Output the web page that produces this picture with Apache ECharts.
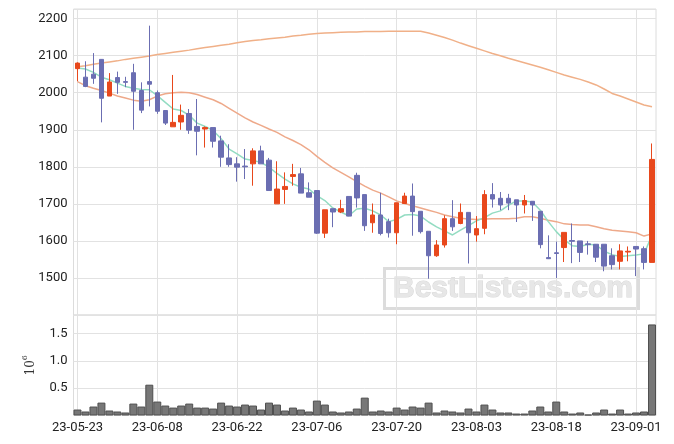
<!DOCTYPE html>
<html>
<head>
<meta charset="utf-8">
<script src="https://cdn.jsdelivr.net/npm/echarts@6/dist/echarts.min.js"></script>
<style>
html,body{margin:0;padding:0;background:#fff;}
#chart{width:674px;height:444px;}
</style>
</head>
<body>
<div id="chart"></div>
<script>
const dates = ['23-05-23','23-05-24','23-05-25','23-05-26','23-05-30','23-05-31','23-06-01','23-06-02','23-06-05','23-06-07',
'23-06-08','23-06-09','23-06-12','23-06-13','23-06-14','23-06-15','23-06-16','23-06-19','23-06-20','23-06-21',
'23-06-22','23-06-23','23-06-26','23-06-27','23-06-28','23-06-29','23-06-30','23-07-03','23-07-04','23-07-05',
'23-07-06','23-07-07','23-07-10','23-07-11','23-07-12','23-07-13','23-07-14','23-07-17','23-07-18','23-07-19',
'23-07-20','23-07-21','23-07-24','23-07-25','23-07-26','23-07-27','23-07-28','23-07-31','23-08-01','23-08-02',
'23-08-03','23-08-04','23-08-07','23-08-08','23-08-09','23-08-10','23-08-11','23-08-14','23-08-16','23-08-17',
'23-08-18','23-08-21','23-08-22','23-08-23','23-08-24','23-08-25','23-08-28','23-08-29','23-08-30','23-08-31',
'23-09-01','23-09-04','23-09-05'];

const openP = [2065,2042,2050,2090,1991,2041,2030,2054,2006,2030,
2000,1952,1908,1921,1944,1909,1902,1906,1870,1824,
1808,1802,1808,1843,1818,1700,1739,1774,1781,1730,
1736,1621,1687,1678,1720,1777,1725,1649,1670,1652,
1622,1701,1721,1680,1626,1560,1589,1660,1647,1677,
1616,1634,1725,1715,1715,1711,1697,1707,1680,1555,
1568,1582,1601,1600,1592,1591,1591,1560,1545,1570,
1585,1579,1542];
const closeP = [2080,2017,2039,1985,2029,2028,2028,2004,1953,2023,
1950,1918,1920,1939,1899,1896,1906,1869,1826,1806,
1799,1800,1843,1808,1736,1740,1747,1779,1729,1718,
1621,1684,1678,1687,1667,1716,1641,1670,1620,1622,
1703,1721,1679,1625,1560,1589,1660,1638,1677,1622,
1633,1725,1713,1697,1702,1697,1709,1697,1590,1552,
1566,1623,1599,1569,1590,1556,1532,1536,1573,1572,
1578,1542,1820];
const lowP = [2031,2015,2024,1920,1991,1997,2015,1900,1945,1963,
1943,1913,1908,1900,1889,1831,1852,1852,1800,1800,
1760,1767,1749,1808,1736,1700,1700,1749,1729,1718,
1619,1608,1637,1675,1667,1690,1627,1622,1615,1609,
1591,1701,1614,1620,1498,1557,1582,1627,1645,1539,
1598,1618,1690,1683,1683,1651,1674,1654,1580,1551,
1500,1543,1540,1543,1563,1543,1518,1523,1523,1545,
1505,1523,1542];
const highP = [2082,2085,2107,2091,2053,2057,2043,2078,2028,2181,
2006,1952,2048,1968,1956,1983,1909,1906,1884,1861,
1826,1848,1850,1857,1824,1815,1785,1808,1797,1758,
1736,1684,1687,1711,1720,1784,1725,1701,1730,1660,
1703,1730,1755,1680,1626,1602,1669,1710,1701,1677,
1667,1737,1756,1732,1727,1711,1724,1707,1680,1615,
1598,1623,1647,1600,1600,1591,1591,1580,1591,1585,
1585,1585,1863];

const ma5 = [2067,2064,2055,2042,2035,2026,2017,2012,2009,2008,
1992,1974,1956,1952,1939,1918,1909,1898,1876,1848,
1835,1821,1817,1812,1799,1782,1767,1754,1745,1740,
1722,1709,1689,1678,1668,1686,1688,1681,1670,1652,
1658,1670,1671,1667,1651,1638,1627,1616,1629,1641,
1654,1663,1675,1681,1696,1708,1708,1705,1683,1652,
1625,1603,1587,1585,1591,1589,1572,1563,1558,1560,
1562,1565,1616];
const ma20 = [2030,2019,2012,2006,1999,1991,1986,1980,1977,1981,
1991,1997,2000,2001,2000,1995,1988,1981,1971,1958,
1945,1932,1921,1912,1902,1893,1881,1871,1860,1846,
1828,1812,1797,1785,1773,1760,1748,1737,1729,1719,
1708,1701,1695,1689,1683,1677,1670,1665,1661,1659,
1658,1659,1660,1660,1660,1661,1665,1665,1661,1656,
1652,1646,1644,1643,1643,1638,1633,1629,1627,1625,
1622,1613,1619];
const maLong = [2070,2073,2077,2080,2083,2086,2090,2093,2096,2099,
2103,2106,2109,2112,2115,2119,2122,2125,2128,2131,
2135,2138,2141,2143,2146,2148,2150,2153,2155,2158,
2160,2161,2162,2163,2164,2164,2165,2165,2165,2166,
2166,2166,2166,2166,2161,2155,2149,2142,2134,2127,
2120,2113,2106,2100,2093,2087,2081,2075,2069,2062,
2055,2048,2042,2036,2029,2021,2010,1998,1991,1983,
1975,1967,1962];

const volume = [0.109,0.073,0.164,0.236,0.091,0.073,0.055,0.218,0.164,0.564,
0.255,0.182,0.145,0.182,0.218,0.145,0.145,0.127,0.236,0.182,
0.164,0.200,0.182,0.109,0.236,0.200,0.091,0.145,0.109,0.073,
0.273,0.200,0.073,0.055,0.073,0.127,0.327,0.073,0.091,0.073,
0.145,0.109,0.164,0.145,0.236,0.055,0.091,0.073,0.055,0.127,
0.073,0.200,0.109,0.055,0.055,0.036,0.036,0.091,0.164,0.073,
0.255,0.073,0.036,0.055,0.018,0.055,0.109,0.036,0.109,0.036,
0.055,0.073,1.667];

const priceTicks = {min:1400, max:2226, step:100};
const volTicks = {min:0, max:1.84, step:0.5};

const candleData = dates.map((d,i)=>[openP[i],closeP[i],lowP[i],highP[i]]);

const UP = '#e8481c', DOWN = '#6b6eb2';
const GRIDC = '#e2e2e2';
const FONT = 'Roboto';

const chart = echarts.init(document.getElementById('chart'), null, {renderer:'canvas'});
chart.setOption({
  animation:false,
  backgroundColor:'#fff',
  grid:[
    {left:73.5, top:9, width:582.5, height:306, show:true, borderColor:'#dcdcdc', borderWidth:1},
    {left:73.5, top:315, width:582.5, height:100.5, show:true, borderColor:'#dcdcdc', borderWidth:1}
  ],
  xAxis:[
    {type:'category', gridIndex:0, data:dates, boundaryGap:true,
     axisLine:{show:false}, axisTick:{show:false}, axisLabel:{show:false},
     splitLine:{show:true, interval:9, alignWithLabel:true, lineStyle:{color:GRIDC, width:1}}},
    {type:'category', gridIndex:1, data:dates, boundaryGap:true,
     axisLine:{show:false}, axisTick:{show:false},
     axisLabel:{show:true, interval:9, fontFamily:FONT, fontSize:13, color:'#222', margin:6},
     splitLine:{show:true, interval:9, alignWithLabel:true, lineStyle:{color:GRIDC, width:1}}}
  ],
  yAxis:[
    {type:'value', gridIndex:0, min:priceTicks.min, max:priceTicks.max, interval:priceTicks.step,
     axisLine:{show:false}, axisTick:{show:false},
     axisLabel:{showMinLabel:false, showMaxLabel:false, fontFamily:FONT, fontSize:13, color:'#222', margin:6,
       formatter:v=>String(Math.round(v))},
     splitLine:{show:true, lineStyle:{color:GRIDC, width:1}}},
    {type:'value', gridIndex:1, min:volTicks.min, max:volTicks.max, interval:volTicks.step,
     axisLine:{show:false}, axisTick:{show:false},
     axisLabel:{showMinLabel:false, showMaxLabel:false, fontFamily:FONT, fontSize:13, color:'#222', margin:6,
       formatter:v=>v.toFixed(1)},
     splitLine:{show:true, lineStyle:{color:GRIDC, width:1}},
     name:'{a|10}{b|6}', nameLocation:'middle', nameRotate:90, nameGap:37,
     nameTextStyle:{rich:{
       a:{fontFamily:'DejaVu Serif', fontSize:12, color:'#333', verticalAlign:'bottom', lineHeight:16},
       b:{fontFamily:'DejaVu Serif', fontSize:8, color:'#333', verticalAlign:'top', lineHeight:16}
     }}}
  ],
  graphic:[{
    type:'group', left:383, top:267, z:1, silent:true,
    children:[
      {type:'rect', shape:{x:1.5, y:1.5, width:254, height:40}, style:{fill:'rgba(255,255,255,0)', stroke:'#dcdcdc', lineWidth:3}},
      {type:'text', x:130, y:22, style:{text:'BestListens.com', font:'bold 30px "Liberation Sans"', fill:'#e7e7e7', stroke:'#d8d8d8', lineWidth:1, align:'center', verticalAlign:'middle'}}
    ]
  }],
  series:[
    {type:'line', xAxisIndex:0, yAxisIndex:0, data:maLong, symbol:'none', z:1, lineStyle:{color:'#f0b088', width:1.5}},
    {type:'line', xAxisIndex:0, yAxisIndex:0, data:ma20, symbol:'none', z:1, lineStyle:{color:'#eea98a', width:1.5}},
    {type:'line', xAxisIndex:0, yAxisIndex:0, data:ma5, symbol:'none', z:1, lineStyle:{color:'#93dcc2', width:1.5}},
    {type:'candlestick', xAxisIndex:0, yAxisIndex:0, data:candleData, barWidth:5, z:3,
     itemStyle:{color:UP, color0:DOWN, borderColor:UP, borderColor0:DOWN, borderWidth:1}},
    {type:'bar', xAxisIndex:1, yAxisIndex:1, data:volume, barCategoryGap:'0%', z:3,
     itemStyle:{color:'#777777', borderColor:'#4f4f4f', borderWidth:1}}
  ]
});
</script>
</body>
</html>
